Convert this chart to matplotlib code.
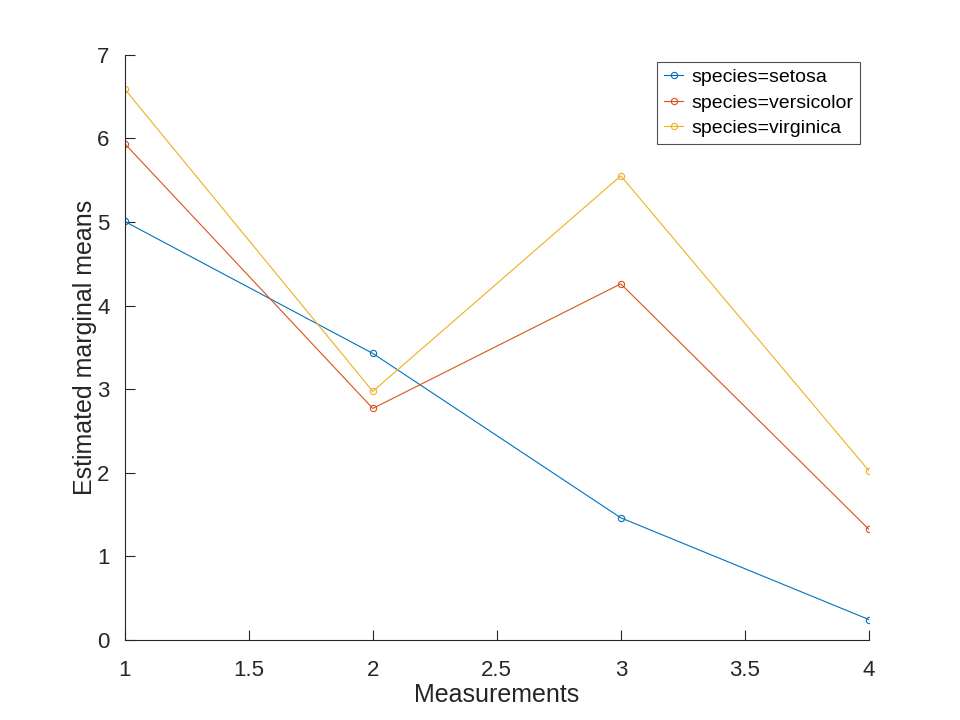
import matplotlib
matplotlib.use('Agg')
import matplotlib.pyplot as plt

plt.rcParams['font.family'] = ['Liberation Sans', 'DejaVu Sans']

measurements = [1, 2, 3, 4]
setosa = [5.006, 3.428, 1.462, 0.246]
versicolor = [5.936, 2.770, 4.260, 1.326]
virginica = [6.588, 2.974, 5.552, 2.026]
labels = ['species=setosa', 'species=versicolor', 'species=virginica']
colors = [(0, 0.447, 0.741), (0.85, 0.325, 0.098), (0.929, 0.694, 0.125)]

fig = plt.figure(figsize=(9.6, 7.2), dpi=100)
ax = fig.add_axes([0.13, 0.111, 0.775, 0.813])

for vals, lab, col in zip([setosa, versicolor, virginica], labels, colors):
    ax.plot(measurements, vals, color=col, lw=0.8, marker='o', ms=4.5,
            mfc='none', mec=col, mew=0.8, label=lab)

ax.set_xlim(1, 4)
ax.set_ylim(0, 7)
ax.set_xticks([1, 1.5, 2, 2.5, 3, 3.5, 4])
ax.set_xticklabels(['1', '1.5', '2', '2.5', '3', '3.5', '4'])
ax.set_yticks(range(8))
ax.spines['top'].set_visible(False)
ax.spines['right'].set_visible(False)
for s in ['left', 'bottom']:
    ax.spines[s].set_color('#262626')
    ax.spines[s].set_linewidth(0.8)
ax.tick_params(direction='in', length=7, width=0.8, colors='#262626',
               labelsize=16)
ax.tick_params(axis='x', pad=14)
ax.tick_params(axis='y', pad=11)
ax.set_xlabel('Measurements', fontsize=18, color='#262626', labelpad=2)
ax.set_ylabel('Estimated marginal means', fontsize=18, color='#262626', labelpad=0)

leg = ax.legend(loc='upper right', bbox_to_anchor=(0.988, 0.988), fontsize=14,
                frameon=True, fancybox=False, handlelength=1.0, handletextpad=0.4,
                borderpad=0.35, labelspacing=0.4, borderaxespad=0)
leg.get_frame().set_edgecolor('#262626')
leg.get_frame().set_linewidth(0.8)

fig.savefig('out.png', dpi=100)
